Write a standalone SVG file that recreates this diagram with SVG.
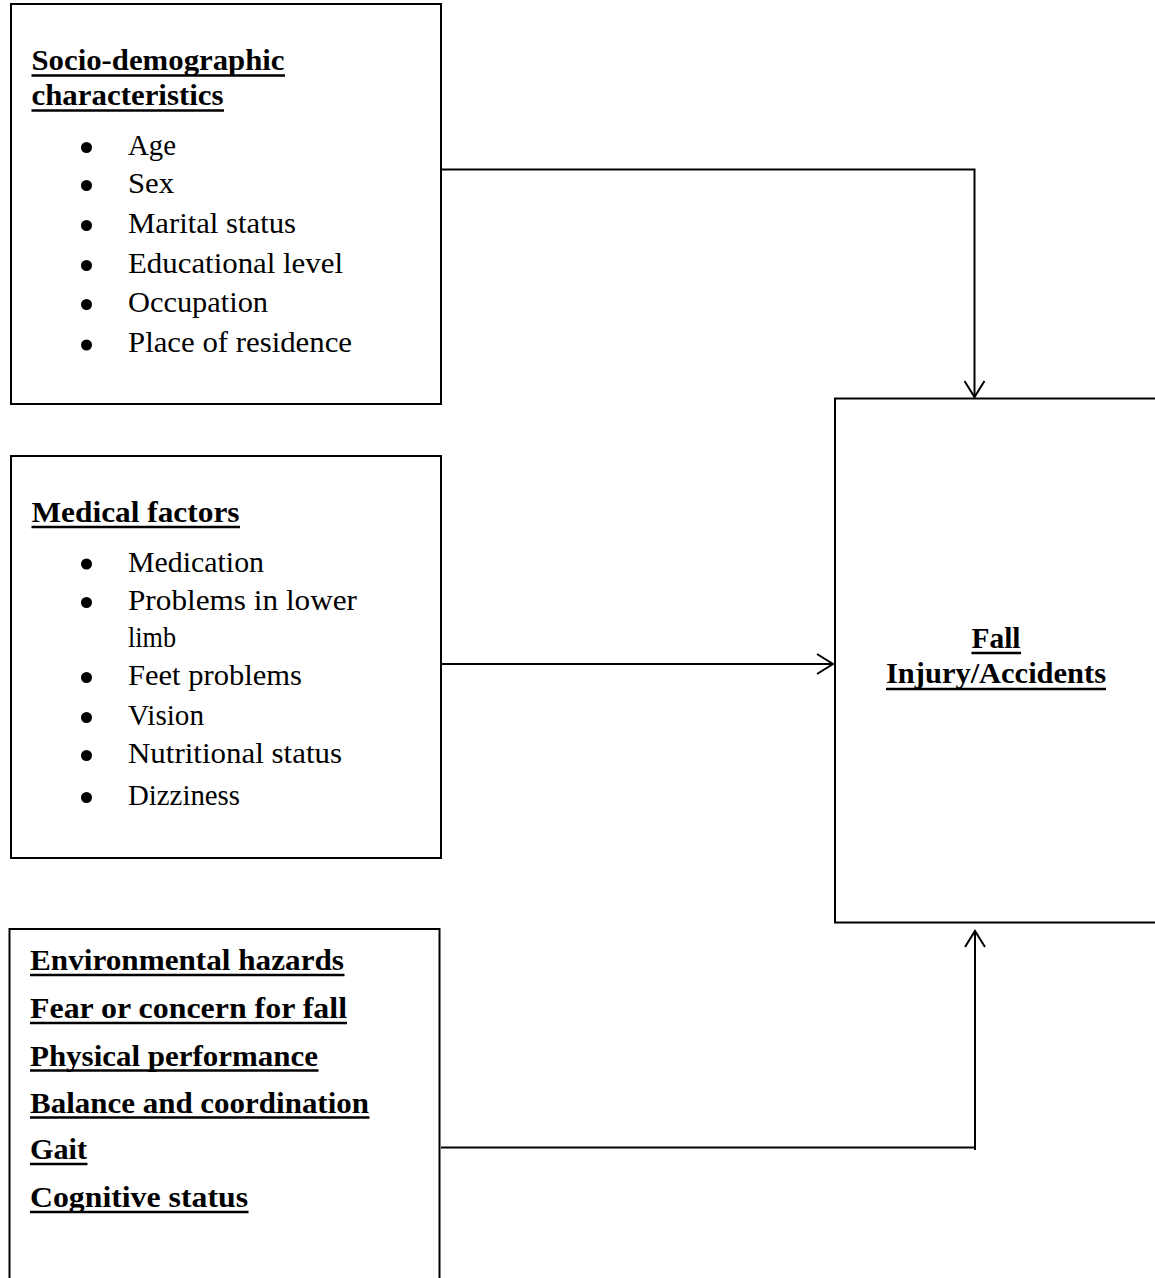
<svg xmlns="http://www.w3.org/2000/svg" width="1155" height="1278" viewBox="0 0 1155 1278">
<style>
.box{fill:#fff;stroke:#000;stroke-width:2}
.h{font-family:"Liberation Serif","Times New Roman",serif;font-size:30px;font-weight:bold;fill:#000}
.t{font-family:"Liberation Serif","Times New Roman",serif;font-size:30px;fill:#000}
.ul{stroke:#000;stroke-width:2.5}
.con{fill:none;stroke:#000;stroke-width:2}
</style>
<defs>
<marker id="arr" markerUnits="userSpaceOnUse" markerWidth="24" markerHeight="24" viewBox="-20 -12 24 24" refX="0" refY="0" orient="auto">
<path d="M-16,-10 L0,0 L-16,10" fill="none" stroke="#000" stroke-width="2"/>
</marker>
</defs>
<rect width="1155" height="1278" fill="#fff"/>
<g id="connectors">
<path class="con" d="M441,169.5 H974.5 V397" marker-end="url(#arr)"/>
<path class="con" d="M441,664 H833" marker-end="url(#arr)"/>
<path class="con" d="M441,1147.5 H975 M975,1150 V931" marker-end="url(#arr)"/>
</g>
<g id="socio">
<rect class="box" x="11" y="4" width="430" height="400"/>
<text class="h" x="31.5" y="70" textLength="253" lengthAdjust="spacingAndGlyphs">Socio-demographic</text>
<line class="ul" x1="31.5" y1="75.5" x2="285" y2="75.5"/>
<text class="h" x="31.5" y="105" textLength="192" lengthAdjust="spacingAndGlyphs">characteristics</text>
<line class="ul" x1="31.5" y1="110.5" x2="224" y2="110.5"/>
<circle cx="86.5" cy="147.5" r="5.5"/>
<text class="t" x="128" y="155" textLength="48" lengthAdjust="spacingAndGlyphs">Age</text>
<circle cx="86.5" cy="185.5" r="5.5"/>
<text class="t" x="128" y="193" textLength="46" lengthAdjust="spacingAndGlyphs">Sex</text>
<circle cx="86.5" cy="225.5" r="5.5"/>
<text class="t" x="128" y="233" textLength="168" lengthAdjust="spacingAndGlyphs">Marital status</text>
<circle cx="86.5" cy="265.5" r="5.5"/>
<text class="t" x="128" y="273" textLength="215" lengthAdjust="spacingAndGlyphs">Educational level</text>
<circle cx="86.5" cy="304.5" r="5.5"/>
<text class="t" x="128" y="312" textLength="140" lengthAdjust="spacingAndGlyphs">Occupation</text>
<circle cx="86.5" cy="345" r="5.5"/>
<text class="t" x="128" y="352" textLength="224" lengthAdjust="spacingAndGlyphs">Place of residence</text>
</g>
<g id="medical">
<rect class="box" x="11" y="456" width="430" height="402"/>
<text class="h" x="31.5" y="521.5" textLength="208" lengthAdjust="spacingAndGlyphs">Medical factors</text>
<line class="ul" x1="31.5" y1="527" x2="240" y2="527"/>
<circle cx="86.5" cy="564" r="5.5"/>
<text class="t" x="128" y="571.5" textLength="136" lengthAdjust="spacingAndGlyphs">Medication</text>
<circle cx="86.5" cy="602.5" r="5.5"/>
<text class="t" x="128" y="610" textLength="229" lengthAdjust="spacingAndGlyphs">Problems in lower</text>
<text class="t" x="128" y="647" textLength="48" lengthAdjust="spacingAndGlyphs">limb</text>
<circle cx="86.5" cy="677.5" r="5.5"/>
<text class="t" x="128" y="685" textLength="174" lengthAdjust="spacingAndGlyphs">Feet problems</text>
<circle cx="86.5" cy="717.5" r="5.5"/>
<text class="t" x="128" y="725" textLength="76" lengthAdjust="spacingAndGlyphs">Vision</text>
<circle cx="86.5" cy="755.5" r="5.5"/>
<text class="t" x="128" y="763" textLength="214" lengthAdjust="spacingAndGlyphs">Nutritional status</text>
<circle cx="86.5" cy="797.5" r="5.5"/>
<text class="t" x="128" y="805" textLength="112" lengthAdjust="spacingAndGlyphs">Dizziness</text>
</g>
<g id="other">
<rect class="box" x="9.5" y="929" width="430" height="400"/>
<text class="h" x="30" y="970" textLength="314" lengthAdjust="spacingAndGlyphs">Environmental hazards</text>
<line class="ul" x1="30" y1="975" x2="344.5" y2="975"/>
<text class="h" x="30" y="1018" textLength="317" lengthAdjust="spacingAndGlyphs">Fear or concern for fall</text>
<line class="ul" x1="30" y1="1023" x2="347" y2="1023"/>
<text class="h" x="30" y="1065.5" textLength="288" lengthAdjust="spacingAndGlyphs">Physical performance</text>
<line class="ul" x1="30" y1="1070.5" x2="318.5" y2="1070.5"/>
<text class="h" x="30" y="1112.5" textLength="339" lengthAdjust="spacingAndGlyphs">Balance and coordination</text>
<line class="ul" x1="30" y1="1117.5" x2="369.5" y2="1117.5"/>
<text class="h" x="30" y="1159" textLength="57" lengthAdjust="spacingAndGlyphs">Gait</text>
<line class="ul" x1="30" y1="1164" x2="87.5" y2="1164"/>
<text class="h" x="30" y="1207" textLength="218" lengthAdjust="spacingAndGlyphs">Cognitive status</text>
<line class="ul" x1="30" y1="1212" x2="248.5" y2="1212"/>
</g>
<g id="outcome">
<rect class="box" x="835" y="398.5" width="340" height="524"/>
<text class="h" x="996" y="648" text-anchor="middle" textLength="49" lengthAdjust="spacingAndGlyphs">Fall</text>
<line class="ul" x1="971.5" y1="653" x2="1021" y2="653"/>
<text class="h" x="996" y="683" text-anchor="middle" textLength="220" lengthAdjust="spacingAndGlyphs">Injury/Accidents</text>
<line class="ul" x1="886" y1="689" x2="1106" y2="689"/>
</g>
</svg>
